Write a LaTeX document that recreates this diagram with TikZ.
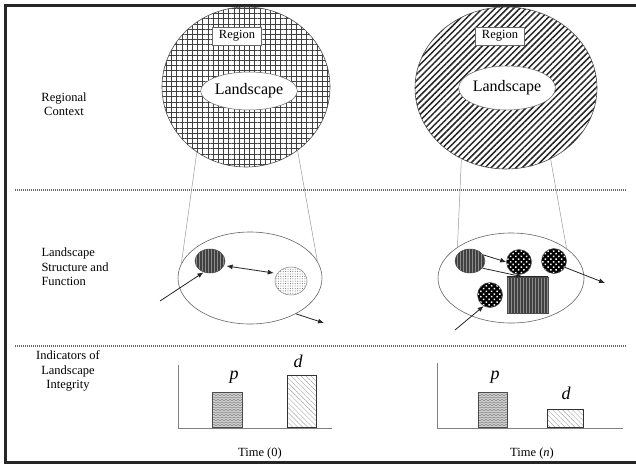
\documentclass[tikz,border=0pt]{standalone}
\usepackage{fontspec}
\setmainfont{Liberation Serif}
\usetikzlibrary{patterns,patterns.meta,arrows.meta,shapes.geometric,calc}
\pgfdeclarepatternformonly{waves}{\pgfqpoint{-1pt}{-1pt}}{\pgfqpoint{5pt}{4pt}}{\pgfqpoint{4pt}{2.5pt}}{%
 \pgfsetlinewidth{0.45pt}%
 \pgfpathmoveto{\pgfqpoint{0pt}{0.3pt}}%
 \pgfpathlineto{\pgfqpoint{2pt}{1.6pt}}%
 \pgfpathlineto{\pgfqpoint{4pt}{0.3pt}}%
 \pgfusepath{stroke}}
\tikzset{
  lbl/.style={font=\fontsize{12.5}{14.5}\selectfont, align=center},
  sep/.style={draw=black!60, line width=1.2pt, dash pattern=on 1.2pt off 0.8pt},
  funnel/.style={draw=black!40, line width=0.5pt},
  outer/.style={ellipse, draw=black!70, line width=0.6pt, inner sep=0pt},
  inner/.style={ellipse, draw=black!60, fill=white, line width=0.5pt, inner sep=0pt, font=\fontsize{16}{18}\selectfont},
  regbox/.style={draw=black!60, fill=white, line width=0.5pt, minimum width=49pt, minimum height=18pt, inner sep=0pt, font=\fontsize{12.5}{14}\selectfont},
  patch/.style={ellipse, draw=black!70, line width=0.5pt, inner sep=0pt},
  stripes/.style={preaction={fill=black!45}, pattern={Lines[angle=90,distance=3pt,line width=1.1pt]}, pattern color=black!75},
  checks/.style={preaction={fill=black}, pattern={Dots[angle=45,distance=3.8pt,radius=1.05pt]}, pattern color=white},
  tip/.style={-{Latex[length=6pt,width=5pt]}},
  arr/.style={draw=black!85, line width=0.8pt},
  axis/.style={draw=black!50, line width=0.8pt},
  pbar/.style={draw=black!70, line width=0.6pt, preaction={fill=black!18}, pattern=waves, pattern color=black!55},
  dbar/.style={draw=black!80, line width=0.9pt, pattern={Lines[angle=-45,distance=3.5pt,line width=0.4pt]}, pattern color=black!35},
  barlbl/.style={font=\fontsize{18}{20}\selectfont\itshape}
}
\begin{document}
\begin{tikzpicture}[x=1pt,y=-1pt]
\useasboundingbox (0,0) rectangle (636,466);
\fill[white] (0,0) rectangle (636,466);
\draw[line width=3pt, black!85] (636,5) -- (5,5) -- (5,462) -- (636,462);

% separators
\coordinate (s1a) at (15,190); \coordinate (s1b) at (626,190);
\coordinate (s2a) at (15,346); \coordinate (s2b) at (626,346);
\draw[sep] (s1a) -- (s1b);
\draw[sep] (s2a) -- (s2b);

% row labels
\node[lbl] (rc) at (64,104) {Regional\\Context};
\node[lbl, align=left] (lsf) at (75,267) {Landscape\\Structure and\\Function};
\node[lbl] (ili) at (68,371) {Indicators of\\Landscape\\Integrity};

% ---- left column: regional context
\node[outer, minimum width=168pt, minimum height=160pt,
  preaction={pattern={Lines[angle=0,distance=5.2pt,line width=0.9pt]}, pattern color=black!75},
  pattern={Lines[angle=90,distance=5.2pt,line width=0.9pt]}, pattern color=black!75] (regL) at (246,87) {};
\node[inner, minimum width=82pt, minimum height=38pt] (landL) at (249,91) {Landscape};
\node[regbox] (boxL) at (237,36) {Region};

% ---- right column: regional context
\node[outer, minimum width=182pt, minimum height=162pt,
  pattern={Lines[angle=45,distance=4.4pt,line width=1.5pt]}, pattern color=black!85] (regR) at (506,88) {};
\node[inner, minimum width=80pt, minimum height=44pt] (landR) at (507,88) {Landscape};
\node[regbox] (boxR) at (500,36) {Region};

% ---- middle ellipses
\node[ellipse, draw=black!60, line width=0.6pt, minimum width=144pt, minimum height=92pt] (midL) at (250,278) {};
\node[ellipse, draw=black!60, line width=0.6pt, minimum width=146pt, minimum height=90pt] (midR) at (511,278) {};

% funnels
\draw[funnel] (regL.233) -- (midL.168);
\draw[funnel] (regL.309) -- (midL.14);
\draw[funnel] (regR.238) -- (midR.150);
\draw[funnel] (regR.302) -- (midR.28);

% left middle patches
\node[patch, stripes, minimum width=30pt, minimum height=24pt] (stL) at (210,261) {};
\node[patch, draw=black!50, minimum width=32pt, minimum height=28pt, pattern={Dots[distance=2.4pt,radius=0.5pt]}, pattern color=black!60] (dotL) at (291,281) {};
\coordinate (inL) at (160,301);
\coordinate (outL) at (324,323);
\draw[arr, {Latex[length=6pt,width=5pt]}-{Latex[length=6pt,width=5pt]}] ($(stL.east)+(1,5)$) -- ($(dotL.west)+(-1,-8)$);
\draw[arr, tip] (inL) -- (stL.240);
\draw[arr, tip] (midL.-38) -- (outL);

% right middle patches
\node[patch, stripes, minimum width=30pt, minimum height=24pt] (stR) at (470,261) {};
\node[patch, checks, circle, minimum size=25pt] (c1) at (519,262) {};
\node[patch, checks, circle, minimum size=25pt] (c2) at (554,261) {};
\node[patch, checks, circle, minimum size=25pt] (c3) at (490,295) {};
\node[draw=black!70, line width=0.5pt, stripes, minimum width=41pt, minimum height=36pt, inner sep=0pt] (rect) at (527.5,295) {};
\draw[black!85, line width=1.2pt] (rect.north west) -- (rect.north east);
\coordinate (inR) at (455,330);
\coordinate (outR) at (605,283);
\draw[arr, tip] (stR.25) -- (c1.west);
\draw[arr, tip] (stR.-30) -- ($(rect.north)+(-5,0)$);
\draw[arr, tip] (c2.-30) -- (outR);
\draw[arr, tip] (inR) -- (c3.240);

% ---- bottom charts
\coordinate (oL) at (178,428); \coordinate (eL) at (332,428);
\coordinate (tL) at (178,365);
\coordinate (oR) at (437,428); \coordinate (eR) at (623,428);
\coordinate (tR) at (437,363);
\draw[axis] (tL) -- (oL) -- (eL);
\draw[axis] (tR) -- (oR) -- (eR);
\node[pbar, minimum width=30pt, minimum height=35pt, inner sep=0pt, anchor=south west] (pL) at (212,428) {};
\node[dbar, minimum width=29pt, minimum height=52pt, inner sep=0pt, anchor=south west] (dL) at (287,428) {};
\node[pbar, minimum width=29pt, minimum height=35pt, inner sep=0pt, anchor=south west] (pR) at (478,428) {};
\node[dbar, minimum width=36pt, minimum height=18pt, inner sep=0pt, anchor=south west] (dR) at (547,428) {};
\node[barlbl] (plL) at (234,377) {p};
\node[barlbl] (dlL) at (298,361) {d};
\node[barlbl] (plR) at (495,377) {p};
\node[barlbl] (dlR) at (566,393) {d};
\node[lbl] (t0) at (260,453) {Time (0)};
\node[lbl] (tn) at (532,453) {Time (\textit{n})};
\end{tikzpicture}
\end{document}
